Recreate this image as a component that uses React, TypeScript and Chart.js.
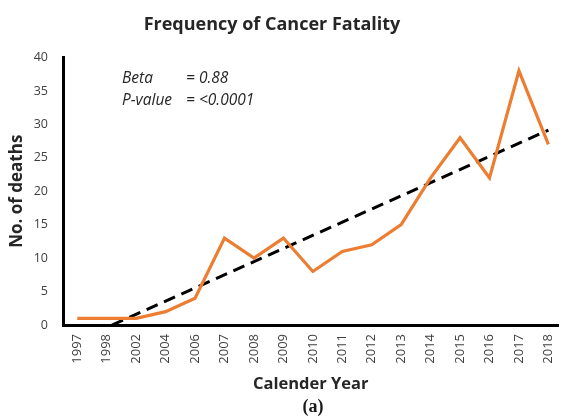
import React, { useEffect, useRef } from "react";
import { Chart, registerables } from "chart.js";

Chart.register(...registerables);

const years = ["1997", "1998", "2002", "2004", "2006", "2007", "2008", "2009", "2010", "2011", "2012", "2013", "2014", "2015", "2016", "2017", "2018"];
const deaths = [1, 1, 1, 2, 4, 13, 10, 13, 8, 11, 12, 15, 22, 28, 22, 38, 27];
const yTicks = [0, 5, 10, 15, 20, 25, 30, 35, 40];

const titleText = "Frequency of Cancer Fatality";
const xTitle = "Calender Year";
const yTitle = "No. of deaths";
const statLabels = ["Beta", "P-value"];
const statValues = ["= 0.88", "= <0.0001"];
const panelLabel = "(a)";

const FONT = "'Open Sans'";

// least-squares trend line computed from the data (Excel linear trendline)
function trendEnds() {
  const n = deaths.length;
  const mx = (n - 1) / 2;
  const my = deaths.reduce((s, v) => s + v, 0) / n;
  let sxy = 0, sxx = 0;
  deaths.forEach((v, i) => { sxy += (i - mx) * (v - my); sxx += (i - mx) * (i - mx); });
  const b = sxy / sxx;
  const a = my - b * mx;
  return [{ x: 0, y: a }, { x: n - 1, y: a + b * (n - 1) }];
}

const textPlugin = {
  id: "textPlugin",
  afterDraw(chart: any) {
    const ctx = chart.ctx;
    ctx.save();
    ctx.textBaseline = "alphabetic";
    // title
    ctx.fillStyle = "#262626";
    ctx.textAlign = "center";
    ctx.font = `bold 18px ${FONT}`;
    ctx.fillText(titleText, 272, 30);
    // statistics
    ctx.textAlign = "left";
    ctx.fillStyle = "#262626";
    ctx.font = `italic 15.5px ${FONT}`;
    ctx.fillText(statLabels[0], 122, 83);
    ctx.fillText(statValues[0], 186, 83);
    ctx.fillText(statLabels[1], 122, 105);
    ctx.fillText(statValues[1], 186, 105);
    // panel label
    ctx.fillStyle = "#1a1a1a";
    ctx.font = `bold 18px "Liberation Serif"`;
    ctx.textAlign = "center";
    ctx.fillText(panelLabel, 313, 412);
    ctx.restore();
  },
};

export default function App() {
  const ref = useRef<HTMLCanvasElement | null>(null);
  useEffect(() => {
    if (!ref.current) return;
    const chart = new Chart(ref.current, {
      type: "line",
      data: {
        datasets: [
          {
            label: "Deaths",
            data: deaths.map((v, i) => ({ x: i, y: v })),
            borderColor: "#ED7D31",
            backgroundColor: "#ED7D31",
            borderWidth: 3.2,
            pointRadius: 0,
            tension: 0,
          },
          {
            label: "Trend",
            data: trendEnds(),
            borderColor: "#000000",
            borderWidth: 3,
            borderDash: [12, 7],
            pointRadius: 0,
          },
        ],
      },
      options: {
        responsive: false,
        animation: false,
        layout: { padding: { left: 0, right: 0, top: 57.5, bottom: 25 } },
        plugins: {
          legend: { display: false },
          tooltip: { enabled: false },
          title: { display: false },
        },
        scales: {
          x: {
            type: "linear",
            min: -0.485,
            max: 16.34,
            grid: { display: false, drawTicks: false },
            border: { display: true, color: "#000000", width: 3 },
            afterBuildTicks: (scale: any) => {
              scale.ticks = years.map((_, i) => ({ value: i }));
            },
            afterFit: (scale: any) => { scale.height = 70; },
            ticks: {
              autoSkip: false,
              maxRotation: 90,
              minRotation: 90,
              padding: 9,
              color: "#404040",
              font: { family: FONT, size: 13 },
              callback: (v: any) => years[v] ?? "",
            },
            title: {
              display: true,
              text: xTitle,
              color: "#262626",
              font: { family: FONT, size: 16.5, weight: "bold" },
              padding: { top: 0, bottom: 1 },
            },
          },
          y: {
            min: 0,
            max: 40,
            grid: { display: false, drawTicks: false },
            border: { display: true, color: "#000000", width: 3 },
            afterBuildTicks: (scale: any) => {
              scale.ticks = yTicks.map((v) => ({ value: v }));
            },
            afterFit: (scale: any) => { scale.width = 63; },
            ticks: {
              padding: 15,
              color: "#404040",
              font: { family: FONT, size: 12.5 },
            },
            title: {
              display: true,
              text: yTitle,
              color: "#262626",
              font: { family: FONT, size: 17, weight: "bold" },
              padding: { top: 6.5, bottom: 0 },
            },
          },
        },
      },
      plugins: [textPlugin],
    });
    return () => chart.destroy();
  }, []);
  return (
    <div style={{ position: "absolute", left: 0, top: 0, width: 573, height: 420 }}>
      <canvas ref={ref} width={573} height={420} />
    </div>
  );
}
